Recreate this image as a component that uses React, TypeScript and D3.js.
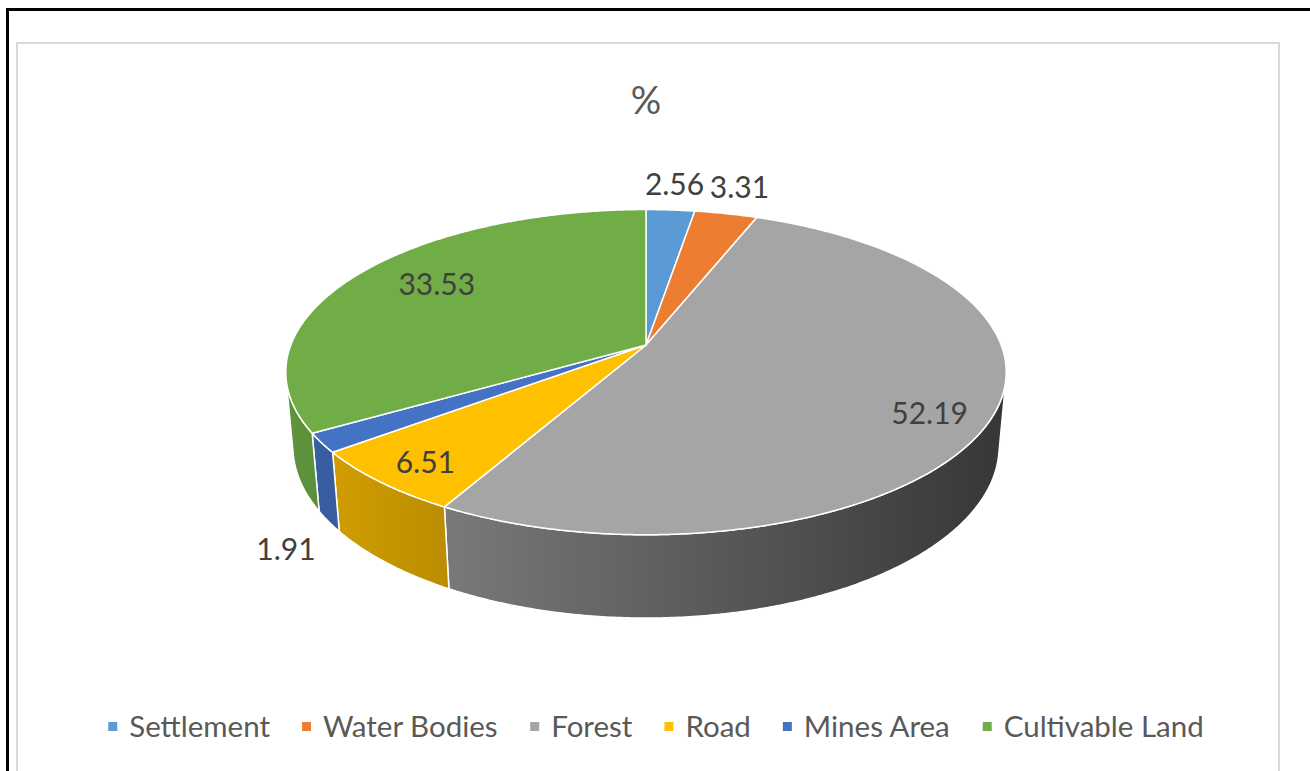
import React, { useMemo } from "react";
import * as d3 from "d3";

const categories = ["Settlement", "Water Bodies", "Forest", "Road", "Mines Area", "Cultivable Land"];
const values = [2.56, 3.31, 52.19, 6.51, 1.91, 33.53];
const labels = ["2.56", "3.31", "52.19", "6.51", "1.91", "33.53"];
const colors = ["#5B9BD5", "#ED7D31", "#A5A5A5", "#FFC000", "#4472C4", "#70AD47"];
const title = "%";

// layout / projection constants
const W = 1310, H = 771;
const CX = 646, CY = 345;
const F = 1905, SN = 0.445, CS = 0.8955, DIST = 5.364, DEPTH = 0.235;
const FONT = "Lato, 'Open Sans', sans-serif";
// label placement (radius factor, plane 0=top 1=bottom, dy px, angle nudge deg)
const labelR = [1.2, 1.2, 0.83, 0.85, 1.12, 0.75];
const labelPlane = [0, 0, 0, 0, 1, 0];
const labelDy = [-3, -4, 9, 3, 14, 0];
const labelDa = [0, 0, 0, 0, 0, 3.3];

function project(phi: number, r: number, py: number): [number, number] {
  const px = r * Math.sin(phi);
  const pz = -r * Math.cos(phi);
  const d = DIST - py * SN - pz * CS;
  return [CX + (F * px) / d, CY + (F * (pz * SN - py * CS)) / d];
}

function arcPts(a0: number, a1: number, py: number): [number, number][] {
  const n = Math.max(2, Math.ceil(Math.abs(a1 - a0) / (Math.PI / 360)));
  const pts: [number, number][] = [];
  for (let i = 0; i <= n; i++) pts.push(project(a0 + ((a1 - a0) * i) / n, 1, py));
  return pts;
}

function shade(col: string, k: number) {
  const c = d3.rgb(col);
  return d3.rgb(c.r * k, c.g * k, c.b * k).formatHex();
}

export default function App() {
  const arcs = useMemo(() => d3.pie<number>().sort(null).value((d) => d)(values), []);
  const line = d3.line();
  const tz = 1 / (DIST * CS);
  const vis0 = Math.PI - Math.acos(tz);
  const vis1 = Math.PI + Math.acos(tz);

  const leftX = CX - 360, rightX = CX + 362;
  const shadeX = d3.scaleLinear().domain([leftX, rightX]).range([0.85, 0.33]);

  const legendFont = 29.5;
  const widths = useMemo(() => {
    const cv = document.createElement("canvas");
    const ctx = cv.getContext("2d")!;
    ctx.font = `${legendFont}px Lato`;
    return categories.map((c) => ctx.measureText(c).width);
  }, []);
  const mk = 9, gapMT = 12, gapItem = 32;
  const total = widths.reduce((s, w) => s + mk + gapMT + w, 0) + gapItem * (categories.length - 1);
  let lx = 656 - total / 2;
  const legendItems = categories.map((c, i) => {
    const x = lx;
    lx += mk + gapMT + widths[i] + gapItem;
    return { c, x, color: colors[i] };
  });

  return (
    <svg width={W} height={H} style={{ position: "absolute", left: 0, top: 0, background: "#fff" }}>
      <defs>
        {colors.map((c, i) => (
          <linearGradient key={i} id={`g${i}`} gradientUnits="userSpaceOnUse" x1={leftX} x2={rightX} y1={0} y2={0}>
            <stop offset="0" stopColor={shade(c, shadeX(leftX))} />
            <stop offset="1" stopColor={shade(c, shadeX(rightX))} />
          </linearGradient>
        ))}
      </defs>
      <rect x={0} y={0} width={W} height={H} fill="#fff" />
      <rect x={7.5} y={9.5} width={1400} height={900} fill="none" stroke="#000" strokeWidth={3} />
      <rect x={17} y={43} width={1262} height={800} fill="none" stroke="#d9d9d9" strokeWidth={2} />
      <text x={646} y={114} textAnchor="middle" fontFamily={FONT} fontSize={38} fill="#595959">{title}</text>

      {arcs.map((a, i) => {
        const s = Math.max(a.startAngle, vis0);
        const e = Math.min(a.endAngle, vis1);
        if (e <= s) return null;
        const top = arcPts(s, e, 0);
        const bot = arcPts(e, s, -DEPTH);
        return (
          <path key={`w${i}`} d={line([...top, ...bot])! + "Z"} fill={`url(#g${i})`} stroke="#fff" strokeWidth={1.5} strokeLinejoin="round" />
        );
      })}

      {arcs.map((a, i) => {
        const pts = [[CX, CY] as [number, number], ...arcPts(a.startAngle, a.endAngle, 0)];
        return <path key={`t${i}`} d={line(pts)! + "Z"} fill={colors[i]} stroke="#fff" strokeWidth={1.5} strokeLinejoin="round" />;
      })}

      {arcs.map((a, i) => {
        const mid = (a.startAngle + a.endAngle) / 2 + (labelDa[i] * Math.PI) / 180;
        const [x, y] = project(mid, labelR[i], labelPlane[i] ? -DEPTH : 0);
        return (
          <text key={`l${i}`} x={x} y={y + labelDy[i]} dy="0.35em" textAnchor="middle" fontFamily={FONT} fontSize={30} fill="#404040">
            {labels[i]}
          </text>
        );
      })}

      {legendItems.map((it, i) => (
        <g key={`lg${i}`}>
          <rect x={it.x} y={722} width={mk} height={mk} fill={it.color} />
          <text x={it.x + mk + gapMT} y={737} fontFamily={FONT} fontSize={legendFont} fill="#595959">{it.c}</text>
        </g>
      ))}
    </svg>
  );
}
